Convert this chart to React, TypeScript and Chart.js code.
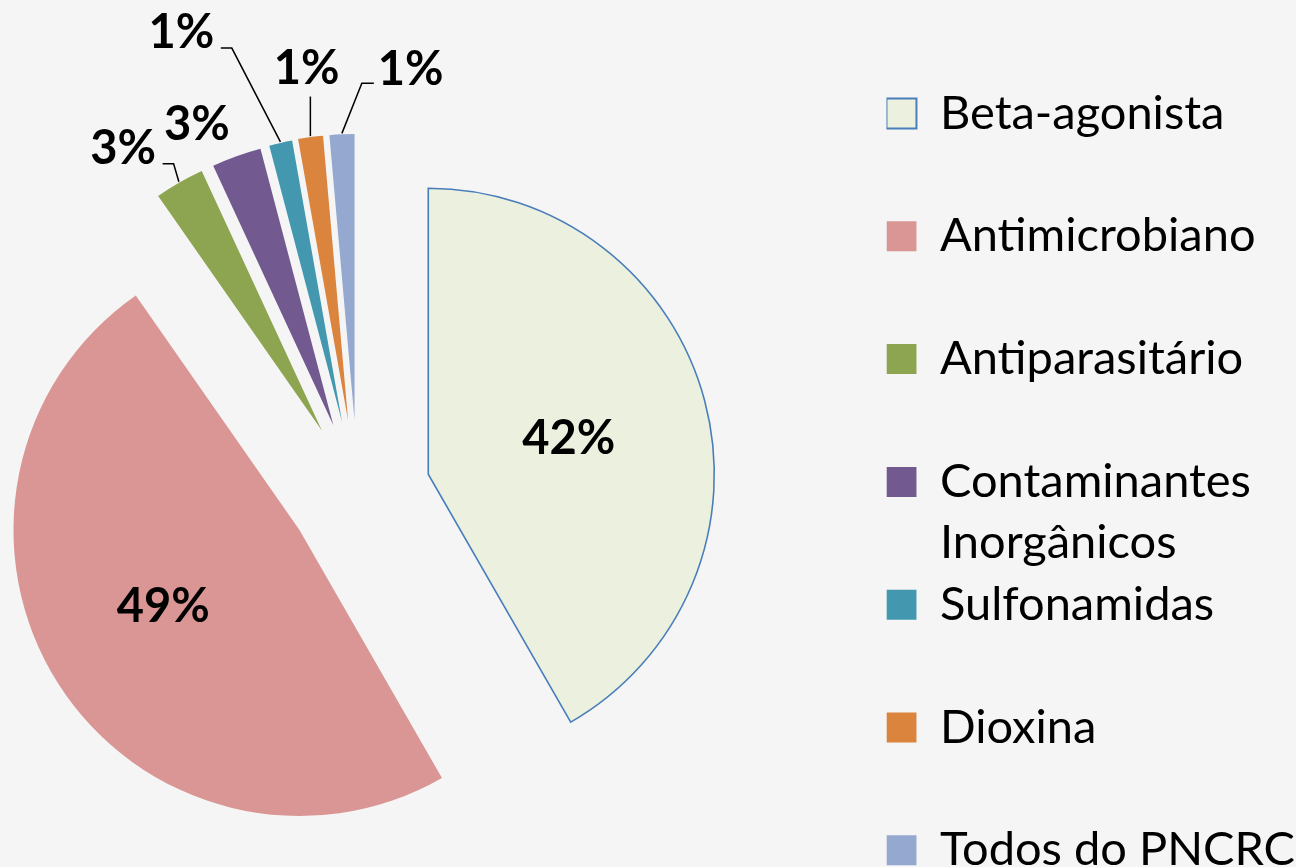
import React, { useEffect, useRef } from 'react';
import { Chart, registerables } from 'chart.js';

Chart.register(...registerables);

// ---------- data ----------
const categories = [
  'Beta-agonista',
  'Antimicrobiano',
  'Antiparasitário',
  'Contaminantes Inorgânicos',
  'Sulfonamidas',
  'Dioxina',
  'Todos do PNCRC',
];
// legend text as shown (wrapped line for the long label)
const legendLines: (string | string[])[] = [
  ['Beta-agonista', ''],
  ['Antimicrobiano', ''],
  ['Antiparasitário', ''],
  ['Contaminantes', 'Inorgânicos'],
  ['Sulfonamidas', ''],
  ['Dioxina', ''],
  'Todos do PNCRC',
];
const shares = [41.7, 48.6, 2.8, 2.8, 1.3, 1.4, 1.4];

// ---------- styles ----------
const sliceColors = ['#EBF1DE', '#D99694', '#8DA550', '#72598F', '#4398AF', '#DB843D', '#95A8D0'];
const sliceBorderColors = ['#4A7EBB', '#D99694', '#8DA550', '#72598F', '#4398AF', '#DB843D', '#95A8D0'];
const sliceBorderWidths = [1.6, 0, 0, 0, 0, 0, 0];
const legendBorderWidths = [2, 0, 0, 0, 0, 0, 0];
const explode = [73, 69, 72, 72, 72.5, 73, 73];
const labelDistance = [0.506, 0.546, 1.213, 1.161, 1.479, 1.248, 1.248];
const labelAngleShift = [0, 3.7, -5.1, -4.5, -9.8, 1, 11.7];
const leaderSide = ['none', 'none', 'right', 'none', 'right', 'below', 'left'];

const FONT = 'Lato';
const LEGEND_SIZE = 47;
const BOX = 30;
const PIE_RADIUS = 286;
const CANVAS_LEFT = -171;
const CANVAS_H = 986;

const explodePlugin = {
  id: 'explodeSlices',
  afterDatasetUpdate(chart: any, args: any) {
    args.meta.data.forEach((arc: any, i: number) => {
      const mid = (arc.startAngle + arc.endAngle) / 2;
      arc.x += Math.cos(mid) * explode[i];
      arc.y += Math.sin(mid) * explode[i];
    });
  },
};

const labelPlugin = {
  id: 'pctLabels',
  afterDatasetsDraw(chart: any) {
    const ctx: CanvasRenderingContext2D = chart.ctx;
    const meta = chart.getDatasetMeta(0);
    const total = shares.reduce((a, b) => a + b, 0);
    ctx.save();
    ctx.font = `bold 47px ${FONT}`;
    ctx.fillStyle = '#000';
    ctx.strokeStyle = '#000';
    ctx.lineWidth = 1.5;
    ctx.textAlign = 'left';
    ctx.textBaseline = 'alphabetic';
    meta.data.forEach((arc: any, i: number) => {
      const { x, y, startAngle, endAngle, outerRadius } = arc;
      const mid = (startAngle + endAngle) / 2;
      const a = mid + (labelAngleShift[i] * Math.PI) / 180;
      const cx = x + Math.cos(a) * labelDistance[i] * outerRadius;
      const cy = y + Math.sin(a) * labelDistance[i] * outerRadius;
      const text = Math.round((shares[i] / total) * 100) + '%';
      const m = ctx.measureText(text);
      const w = m.actualBoundingBoxLeft + m.actualBoundingBoxRight;
      const h = m.actualBoundingBoxAscent + m.actualBoundingBoxDescent;
      const left = cx - w / 2;
      const right = cx + w / 2;
      const bottom = cy + h / 2;
      ctx.fillText(text, left + m.actualBoundingBoxLeft, cy + (m.actualBoundingBoxAscent - m.actualBoundingBoxDescent) / 2);
      const px = x + Math.cos(mid) * (outerRadius + 1);
      const py = y + Math.sin(mid) * (outerRadius + 1);
      const side = leaderSide[i];
      if (side === 'none') return;
      ctx.beginPath();
      ctx.moveTo(px, py);
      if (side === 'right') {
        ctx.lineTo(right + 19, bottom);
        ctx.lineTo(right + 8, bottom);
      } else if (side === 'left') {
        ctx.lineTo(left - 19, bottom - 2);
        ctx.lineTo(left - 7, bottom - 2);
      } else {
        ctx.lineTo(px, bottom + 13);
      }
      ctx.stroke();
    });
    ctx.restore();
  },
};

export default function App() {
  const ref = useRef<HTMLCanvasElement>(null);

  useEffect(() => {
    const canvas = ref.current!;
    const mctx = document.createElement('canvas').getContext('2d')!;
    mctx.font = `normal ${LEGEND_SIZE}px ${FONT}`;
    const textW = Math.max(
      ...legendLines.map((t) =>
        mctx.measureText(Array.isArray(t) ? t.reduce((p, q) => (p.length > q.length ? p : q)) : t).width
      )
    );
    const legendW = BOX + LEGEND_SIZE / 2 + textW + 10;
    const width = Math.round(1057 + legendW);
    canvas.width = width;
    canvas.height = CANVAS_H;
    canvas.style.width = width + 'px';
    canvas.style.height = CANVAS_H + 'px';

    const chart = new Chart(canvas, {
      type: 'pie',
      data: {
        labels: categories,
        datasets: [
          {
            data: shares,
            backgroundColor: sliceColors,
            borderColor: sliceBorderColors,
            borderWidth: sliceBorderWidths,
            borderJoinStyle: 'miter',
            offset: 0,
            hoverOffset: 0,
          } as any,
        ],
      },
      options: {
        responsive: false,
        maintainAspectRatio: false,
        devicePixelRatio: 1,
        animation: false,
        events: [],
        radius: PIE_RADIUS,
        layout: { padding: 0 },
        plugins: {
          tooltip: { enabled: false },
          legend: {
            display: true,
            position: 'right',
            align: 'start',
            title: { display: true, text: ' ', font: { size: 1, lineHeight: '90px' } as any, padding: 0 },
            labels: {
              boxWidth: BOX,
              boxHeight: BOX,
              padding: 0,
              color: '#000',
              font: { family: FONT, size: LEGEND_SIZE, lineHeight: '61.4px' } as any,
              generateLabels: () =>
                legendLines.map((t, i) => ({
                  text: t as any,
                  fillStyle: sliceColors[i],
                  strokeStyle: sliceBorderColors[i],
                  lineWidth: legendBorderWidths[i],
                  hidden: false,
                  index: i,
                  fontColor: '#000',
                })),
            },
          },
        },
      } as any,
      plugins: [explodePlugin, labelPlugin],
    });
    return () => chart.destroy();
  }, []);

  return (
    <div
      style={{
        position: 'fixed',
        left: 0,
        top: 0,
        width: 1296,
        height: 867,
        overflow: 'hidden',
        background: '#F5F5F5',
      }}
    >
      <canvas ref={ref} style={{ position: 'absolute', left: CANVAS_LEFT, top: 0 }} />
    </div>
  );
}
